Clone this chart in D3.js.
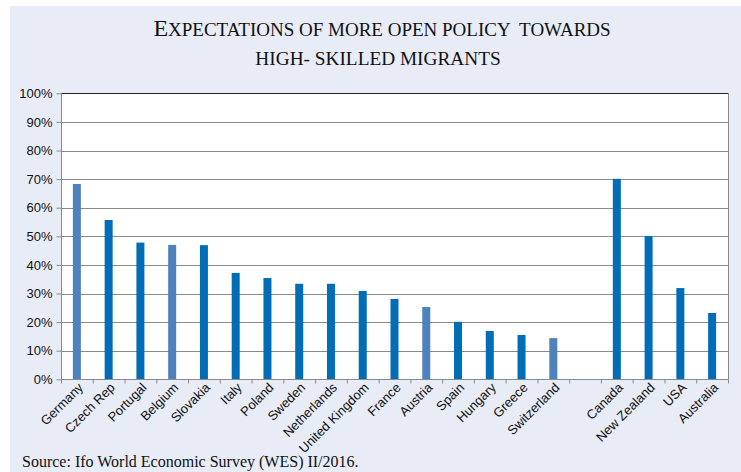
<!DOCTYPE html>
<html><head><meta charset="utf-8">
<script src="https://cdn.jsdelivr.net/npm/d3@7"></script>
<style>body{margin:0;background:#fff}svg{display:block}</style>
</head><body>
<svg id="c" width="741" height="472"></svg>
<script>
const categories = ["Germany","Czech Rep","Portugal","Belgium","Slovakia","Italy","Poland","Sweden","Netherlands","United Kingdom","France","Austria","Spain","Hungary","Greece","Switzerland","","Canada","New Zealand","USA","Australia"];
const values = [68.3,55.7,47.8,47.0,46.9,37.2,35.4,33.4,33.4,30.9,28.1,25.3,20.1,16.9,15.5,14.4,null,70.1,50.1,31.9,23.2];
const highlight = ["Germany","Belgium","Austria","Switzerland"];
const yTicks = [0,10,20,30,40,50,60,70,80,90,100];

const svg = d3.select("#c");
svg.append("rect").attr("x",10).attr("y",6).attr("width",731).attr("height",466).attr("fill","#e8ecf7");

const m = {l:61, r:728, t:93.3, b:379.3};
const x = d3.scaleBand().domain(d3.range(categories.length)).range([m.l,m.r]).padding(0);
const xl = d3.scaleLinear().domain([0,categories.length]).range([m.l,m.r]);
const y = d3.scaleLinear().domain([0,100]).range([m.b,m.t]);

svg.append("rect").attr("x",m.l).attr("y",m.t).attr("width",m.r-m.l).attr("height",m.b-m.t).attr("fill","#fff");

// gridlines
svg.append("g").selectAll("line").data(yTicks.filter(d=>d>0&&d<100)).join("line")
  .attr("x1",m.l).attr("x2",m.r).attr("y1",d=>Math.round(y(d))+0.5).attr("y2",d=>Math.round(y(d))+0.5)
  .attr("stroke","#8a8a8a").attr("stroke-width",1);
svg.append("line").attr("x1",m.l).attr("x2",m.r+0.5).attr("y1",Math.round(y(100))+0.5).attr("y2",Math.round(y(100))+0.5).attr("stroke","#222");
svg.append("line").attr("x1",m.r+0.5).attr("x2",m.r+0.5).attr("y1",Math.round(y(100))+0.5).attr("y2",m.b).attr("stroke","#8a8a8a");

// bars
const bw = 8;
svg.append("g").selectAll("rect").data(values.map((v,i)=>({v,i,c:categories[i]})).filter(d=>d.v!=null)).join("rect")
  .attr("x",d=>x(d.i)+x.bandwidth()/2-bw/2).attr("width",bw)
  .attr("y",d=>y(d.v)).attr("height",d=>y(0)-y(d.v))
  .attr("fill",d=>highlight.includes(d.c)?"#4f81bd":"#006db6");

// y axis
const ya = svg.append("g").attr("transform",`translate(${m.l+0.5},0)`)
  .call(d3.axisLeft(y).tickValues(yTicks).tickSize(5).tickPadding(4).tickFormat(d=>d+"%"));
ya.select(".domain").attr("stroke","#8a8a8a").attr("d",`M-0,${m.t}V${m.b}`);
ya.selectAll(".tick line").attr("stroke","#8a8a8a");
ya.selectAll(".tick text").attr("font-family","Liberation Sans, Arial, sans-serif").attr("font-size",13).attr("fill","#111");

// x axis
const xa = svg.append("g").attr("transform",`translate(0,${Math.round(m.b)+0.5})`)
  .call(d3.axisBottom(xl).tickValues(d3.range(categories.length+1)).tickSize(4).tickFormat(""));
xa.select(".domain").attr("stroke","#8a8a8a").attr("d",`M${m.l},0H${m.r+0.5}`);
xa.selectAll(".tick line").attr("stroke","#8a8a8a");

svg.append("g").selectAll("text").data(categories.map((c,i)=>({c,i})).filter(d=>d.c)).join("text")
  .attr("transform",d=>`translate(${x(d.i)+x.bandwidth()/2+7},${m.b+9}) rotate(-45)`)
  .attr("text-anchor","end").attr("font-family","Liberation Sans, Arial, sans-serif")
  .attr("font-size",13).attr("fill","#111").text(d=>d.c);

// title
const tf = "Liberation Serif, Times New Roman, serif";
const t1 = svg.append("text").attr("x",382).attr("y",36).attr("text-anchor","middle").attr("font-family",tf).attr("fill","#111")
  .style("white-space","pre");
t1.append("tspan").attr("font-size",24).text("E");
t1.append("tspan").attr("font-size",19).text("XPECTATIONS OF MORE OPEN POLICY  TOWARDS");
svg.append("text").attr("x",378).attr("y",65).attr("text-anchor","middle").attr("font-family",tf).attr("fill","#111")
  .attr("font-size",19.3).style("white-space","pre").text("HIGH- SKILLED MIGRANTS");

svg.append("text").attr("x",22).attr("y",467).attr("font-family",tf).attr("font-size",16).attr("fill","#111")
  .text("Source: Ifo World Economic Survey (WES) II/2016.");
</script>
</body></html>
